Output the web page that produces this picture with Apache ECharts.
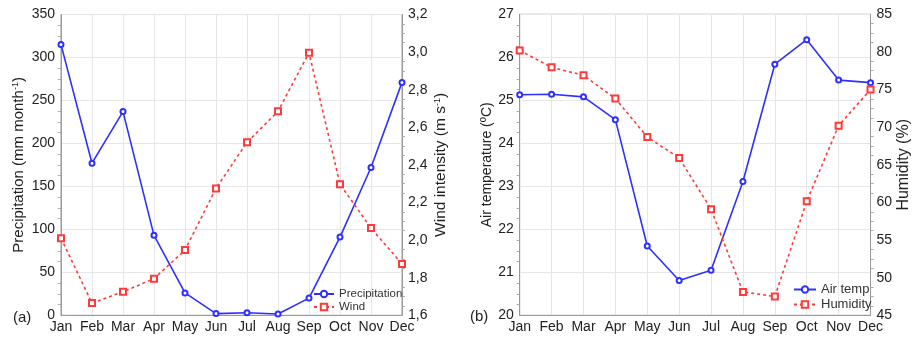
<!DOCTYPE html>
<html><head><meta charset="utf-8">
<script src="https://cdn.jsdelivr.net/npm/echarts@6/dist/echarts.min.js"></script>
<style>html,body{margin:0;padding:0;background:#fff}#c{width:913px;height:337px}</style>
</head><body><div id="c"></div>
<script>
var months = ['Jan','Feb','Mar','Apr','May','Jun','Jul','Aug','Sep','Oct','Nov','Dec'];
var precipitation = [315, 177, 237, 93, 26, 2, 3, 1.5, 20, 91, 172, 271];
var wind = [2.01, 1.665, 1.725, 1.795, 1.947, 2.275, 2.52, 2.685, 2.997, 2.297, 2.064, 1.873];
var airTemp = [25.13, 25.14, 25.08, 24.55, 21.61, 20.81, 21.05, 23.11, 25.84, 26.41, 25.47, 25.41];
var humidity = [80.2, 77.95, 76.9, 73.8, 68.7, 65.9, 59.1, 48.1, 47.5, 60.15, 70.2, 75.0];

var font = 'Liberation Sans, Arial, sans-serif';
var blue = '#2f2fff', red = '#ff3a3a';
var chart = echarts.init(document.getElementById('c'));
function xAxis(i){return {type:'category',data:months,gridIndex:i,boundaryGap:false,
  axisLine:{show:true,lineStyle:{color:'#999'}},axisTick:{show:false},
  axisLabel:{color:'#222',fontSize:14,fontFamily:font,margin:5,interval:0},
  splitLine:{show:true,lineStyle:{color:'#e6e6e6'}}};}
function yAxis(i,pos,min,max,interval,name,fmt,gap,fs){return {type:'value',gridIndex:i,position:pos,min:min,max:max,interval:interval,
  name:name,nameLocation:'middle',nameGap:gap,nameRotate:90,
  nameTextStyle:{color:'#222',fontSize:fs,fontFamily:font,rich:{a:{fontSize:fs,fontFamily:font,color:'#222'},s:{fontSize:9,fontFamily:font,color:'#222',verticalAlign:'top',padding:[0,0,7,0]}}},
  axisLine:{show:true,lineStyle:{color:'#999'}},axisTick:{show:false},
  minorTick:{show:true,splitNumber:4,length:3,lineStyle:{color:'#aaa'}},
  axisLabel:{color:'#222',fontSize:14,fontFamily:font,margin:6,formatter:fmt},
  splitLine:{show:pos==='left',lineStyle:{color:'#e6e6e6'}}};}
var comma = function(v){return v.toFixed(1).replace('.',',');};
var intf = function(v){return String(v);};
chart.setOption({
  animation:false,
  title:[{text:'(a)',left:8,top:305,textStyle:{fontSize:15,fontWeight:'normal',color:'#222',fontFamily:font}},
         {text:'(b)',left:465,top:304,textStyle:{fontSize:15,fontWeight:'normal',color:'#222',fontFamily:font}}],
  grid:[{left:61,right:511,top:14.5,bottom:21.7,show:true,borderColor:'#999',borderWidth:1},
        {left:519.7,right:36.7,top:14.3,bottom:21.7,show:true,borderColor:'#999',borderWidth:1}],
  legend:[{data:['Precipitation','Wind'],orient:'vertical',left:313,top:288,itemGap:1,itemWidth:20,itemHeight:8,
           textStyle:{fontSize:11.5,color:'#333',fontFamily:font},padding:0},
          {data:['Air temp','Humidity'],orient:'vertical',left:793,top:283,itemGap:2,itemWidth:22,itemHeight:8,
           textStyle:{fontSize:13,color:'#333',fontFamily:font},padding:0}],
  xAxis:[xAxis(0),xAxis(1)],
  yAxis:[yAxis(0,'left',0,350,50,'{a|Precipitation (mm month}{s|-1}{a|)}',intf,34,15),
         yAxis(0,'right',1.6,3.2,0.2,'{a|Wind intensity (m s}{s|-1}{a|)}',comma,31,15.5),
         yAxis(1,'left',20,27,1,'Air temperature (ºC)',intf,25,14),
         yAxis(1,'right',45,85,5,'Humidity (%)',intf,22,16)],
  series:[
    {name:'Precipitation',type:'line',xAxisIndex:0,yAxisIndex:0,data:precipitation,symbol:'emptyCircle',symbolSize:5,
     itemStyle:{color:blue,borderWidth:1},lineStyle:{color:blue,width:1.6}},
    {name:'Wind',type:'line',xAxisIndex:0,yAxisIndex:1,data:wind,symbol:'emptyRect',symbolSize:6,
     itemStyle:{color:red,borderWidth:1},lineStyle:{color:red,width:1.6,type:[3,3]}},
    {name:'Air temp',type:'line',xAxisIndex:1,yAxisIndex:2,data:airTemp,symbol:'emptyCircle',symbolSize:5,
     itemStyle:{color:blue,borderWidth:1},lineStyle:{color:blue,width:1.6}},
    {name:'Humidity',type:'line',xAxisIndex:1,yAxisIndex:3,data:humidity,symbol:'emptyRect',symbolSize:6,
     itemStyle:{color:red,borderWidth:1},lineStyle:{color:red,width:1.6,type:[3,3]}}
  ]
});
</script></body></html>
